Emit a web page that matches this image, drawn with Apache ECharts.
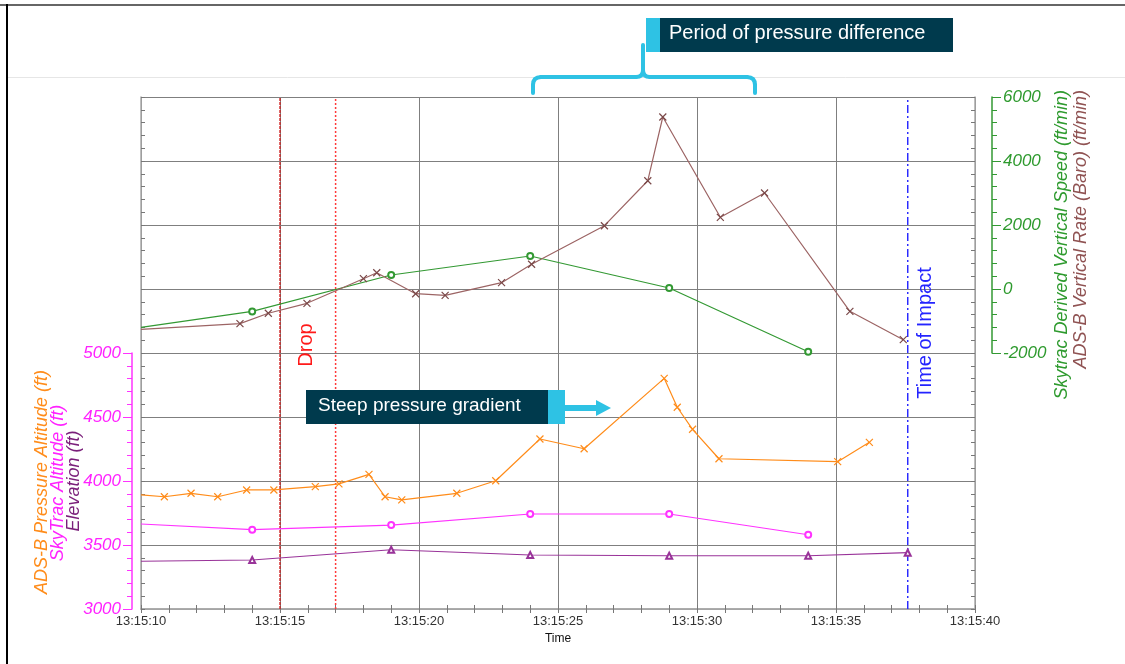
<!DOCTYPE html>
<html>
<head>
<meta charset="utf-8">
<script src="https://cdn.jsdelivr.net/npm/echarts@6/dist/echarts.min.js"></script>
<style>
html,body{margin:0;padding:0;background:#fff;}
#c{width:1125px;height:664px;}
</style>
</head>
<body>
<div id="c"></div>
<script>
// ---- Data (time in seconds after 13:15:00) ----
const adsbAltT = [10, 10.84, 11.8, 12.76, 13.8, 14.78, 16.27, 17.12, 18.2, 18.78, 19.38, 21.36, 22.76, 24.35, 25.94, 28.82, 29.29, 29.84, 30.79, 35.06, 36.2];
const adsbAlt  = [3891, 3877, 3904, 3877, 3930, 3930, 3956, 3977, 4052, 3877, 3852, 3904, 4002, 4328, 4252, 4802, 4576, 4404, 4174, 4151, 4302];
const skyT     = [10, 14, 19, 24, 29, 34];
const skyAlt   = [3664, 3620, 3656, 3742, 3742, 3580];
const elevT    = [10, 14, 19, 24, 29, 34, 37.58];
const elev     = [3373, 3383, 3463, 3422, 3416, 3416, 3440];
const skyVs    = [-1200, -700, 437, 1031, 31, -1960];
const adsbRateT = [10, 13.56, 14.58, 15.97, 18.0, 18.48, 19.88, 20.94, 22.97, 24.05, 26.67, 28.23, 28.77, 30.84, 32.43, 35.5, 37.42];
const adsbRate  = [-1260, -1084, -759, -447, 322, 509, -147, -197, 197, 772, 1978, 3384, 5375, 2240, 3000, -697, -1584];
const dropTimes = [15, 17];
const impactTime = 37.58;
const timeTicks = [10, 15, 20, 25, 30, 35, 40];
const altTicks = [3000, 3500, 4000, 4500, 5000];
const rateTicks = [-2000, 0, 2000, 4000, 6000];

const C = {
  orange: '#ff8c1a', magenta: '#ff33ff', purple: '#993399', green: '#339933', brown: '#9c6464'
};
const pairs = (t, v) => t.map((x, i) => i === 0 ? {value: [x, v[i]], symbol: 'none'} : [x, v[i]]);
const XSYM = 'path://M0,0L8,8M8,0L0,8';
const fmtTime = v => '13:15:' + (v < 10 ? '0' : '') + v;
const plain = v => String(v);

const chart = echarts.init(document.getElementById('c'), null, {renderer: 'canvas'});
const G = {left: 141, width: 834};
const tickGray = '#777';
const CYAN = '#2ec2e4';
const FONT = 'Liberation Sans, Arial';
const bracketStyle = {stroke: CYAN, lineWidth: 4, fill: null, lineCap: 'round'};
const option = {
  animation: false,
  textStyle: {fontFamily: 'Liberation Sans, Arial, sans-serif'},
  grid: [
    Object.assign({top: 97, height: 512}, G),
    Object.assign({top: 353, height: 256}, G),
    Object.assign({top: 97, height: 256}, G)
  ],
  xAxis: [
    {gridIndex: 0, type: 'value', min: timeTicks[0], max: timeTicks[timeTicks.length - 1], interval: 5,
     axisLine: {show: true, lineStyle: {color: '#a8a8a8', width: 1.5}},
     axisTick: {show: true, inside: true, length: 4, lineStyle: {color: tickGray}},
     minorTick: {show: true, splitNumber: 5, length: 4, lineStyle: {color: tickGray}},
     splitLine: {show: true, lineStyle: {color: '#7f7f7f', width: 1}},
     axisLabel: {formatter: fmtTime, color: '#333', fontSize: 13, margin: 6},
     name: 'Time', nameLocation: 'middle', nameGap: 24, nameTextStyle: {color: '#111', fontSize: 12}},
    {gridIndex: 0, type: 'value', position: 'top', min: 10, max: 40, interval: 5,
     axisLine: {show: true, lineStyle: {color: '#a8a8a8', width: 1.5}},
     axisTick: {show: true, inside: true, length: 4, lineStyle: {color: tickGray}},
     minorTick: {show: true, splitNumber: 5, length: 4, lineStyle: {color: tickGray}},
     splitLine: {show: false}, axisLabel: {show: false}},
    {gridIndex: 1, type: 'value', min: 10, max: 40, show: false},
    {gridIndex: 2, type: 'value', min: 10, max: 40, show: false}
  ],
  yAxis: [
    {gridIndex: 0, type: 'value', min: 0, max: 40, interval: 5,
     axisLine: {show: true, lineStyle: {color: '#a8a8a8', width: 1.5}},
     axisTick: {show: true, inside: true, length: 4, lineStyle: {color: tickGray}},
     minorTick: {show: true, splitNumber: 5, length: 4, lineStyle: {color: tickGray}},
     splitLine: {show: true, lineStyle: {color: '#7f7f7f', width: 1}},
     axisLabel: {show: false}},
    {gridIndex: 0, type: 'value', position: 'right', min: 0, max: 40, interval: 5,
     axisLine: {show: true, lineStyle: {color: '#a8a8a8', width: 1.5}},
     axisTick: {show: true, inside: true, length: 4, lineStyle: {color: tickGray}},
     minorTick: {show: true, splitNumber: 5, length: 4, lineStyle: {color: tickGray}},
     splitLine: {show: false}, axisLabel: {show: false}},
    {gridIndex: 1, type: 'value', position: 'left', offset: 9, min: altTicks[0], max: altTicks[altTicks.length - 1], interval: 500,
     axisLine: {show: true, lineStyle: {color: C.magenta, width: 1.5}},
     axisTick: {show: true, inside: false, length: 9, lineStyle: {color: C.magenta}},
     minorTick: {show: true, splitNumber: 5, length: 5, lineStyle: {color: C.magenta}},
     splitLine: {show: false},
     axisLabel: {formatter: plain, color: '#ff22ff', fontSize: 17, fontStyle: 'italic', margin: 11}},
    {gridIndex: 2, type: 'value', position: 'right', offset: 17, min: rateTicks[0], max: rateTicks[rateTicks.length - 1], interval: 2000,
     axisLine: {show: true, lineStyle: {color: C.green, width: 1.5}},
     axisTick: {show: true, inside: false, length: 9, lineStyle: {color: C.green}},
     minorTick: {show: true, splitNumber: 5, length: 5, lineStyle: {color: C.green}},
     splitLine: {show: false},
     axisLabel: {formatter: plain, color: '#2e9a2e', fontSize: 17, fontStyle: 'italic', margin: 11}}
  ],
  series: [
    {type: 'line', xAxisIndex: 0, yAxisIndex: 0, silent: true, symbol: 'none', z: 3,
     data: [[dropTimes[0], 0], [dropTimes[0], 40]], lineStyle: {color: '#d01818', width: 1.3, type: [3, 1]}},
    {type: 'line', xAxisIndex: 0, yAxisIndex: 0, silent: true, symbol: 'none', z: 3,
     data: [[dropTimes[1], 0], [dropTimes[1], 40]], lineStyle: {color: '#ff3a3a', width: 1.5, type: [2, 2]}},
    {type: 'line', xAxisIndex: 0, yAxisIndex: 0, silent: true, symbol: 'none', z: 3,
     data: [[impactTime, 0], [impactTime, 40]], lineStyle: {color: '#2a2aff', width: 1.5, type: [8, 3, 2, 3]}},
    {name: 'ADS-B Pressure Altitude', type: 'line', xAxisIndex: 2, yAxisIndex: 2, z: 4,
     data: pairs(adsbAltT, adsbAlt), symbol: XSYM, symbolSize: 7,
     lineStyle: {color: C.orange, width: 1.2}, itemStyle: {color: C.orange, borderColor: C.orange, borderWidth: 1.2}},
    {name: 'SkyTrac Altitude', type: 'line', xAxisIndex: 2, yAxisIndex: 2, z: 4,
     data: pairs(skyT, skyAlt), symbol: 'emptyCircle', symbolSize: 6,
     lineStyle: {color: C.magenta, width: 1.2}, itemStyle: {color: C.magenta, borderWidth: 1.2}},
    {name: 'Elevation', type: 'line', xAxisIndex: 2, yAxisIndex: 2, z: 4,
     data: pairs(elevT, elev), symbol: 'emptyTriangle', symbolSize: 6,
     lineStyle: {color: C.purple, width: 1.2}, itemStyle: {color: C.purple, borderWidth: 1.2}},
    {name: 'Skytrac Derived Vertical Speed', type: 'line', xAxisIndex: 3, yAxisIndex: 3, z: 4,
     data: pairs(skyT, skyVs), symbol: 'emptyCircle', symbolSize: 6,
     lineStyle: {color: C.green, width: 1.2}, itemStyle: {color: C.green, borderWidth: 1.2}},
    {name: 'ADS-B Vertical Rate (Baro)', type: 'line', xAxisIndex: 3, yAxisIndex: 3, z: 4,
     data: pairs(adsbRateT, adsbRate), symbol: XSYM, symbolSize: 7,
     lineStyle: {color: C.brown, width: 1.2}, itemStyle: {color: C.brown, borderColor: '#7a4848', borderWidth: 1.2}}
  ],
  graphic: {elements: [
    {type: 'line', shape: {x1: 0, y1: 5, x2: 1125, y2: 5}, style: {stroke: '#666', lineWidth: 2}},
    {type: 'line', shape: {x1: 7, y1: 4, x2: 7, y2: 664}, style: {stroke: '#000', lineWidth: 2}},
    {type: 'line', shape: {x1: 8, y1: 77.5, x2: 1125, y2: 77.5}, style: {stroke: '#e6e6e6', lineWidth: 1}},
    {type: 'text', x: 42, y: 482, rotation: Math.PI / 2, style: {text: 'ADS-B Pressure Altitude (ft)', fill: C.orange, font: 'italic 18px ' + FONT, textAlign: 'center', textVerticalAlign: 'middle'}},
    {type: 'text', x: 58, y: 483, rotation: Math.PI / 2, style: {text: 'SkyTrac Altitude (ft)', fill: '#ff22ff', font: 'italic 18px ' + FONT, textAlign: 'center', textVerticalAlign: 'middle'}},
    {type: 'text', x: 74, y: 481, rotation: Math.PI / 2, style: {text: 'Elevation (ft)', fill: '#7a1f7a', font: 'italic 18px ' + FONT, textAlign: 'center', textVerticalAlign: 'middle'}},
    {type: 'text', x: 1062, y: 90, rotation: Math.PI / 2, style: {text: 'Skytrac Derived Vertical Speed (ft/min)', fill: '#2e9a2e', font: 'italic 18px ' + FONT, textAlign: 'right', textVerticalAlign: 'middle'}},
    {type: 'text', x: 1081, y: 90, rotation: Math.PI / 2, style: {text: 'ADS-B Vertical Rate (Baro) (ft/min)', fill: '#8f5252', font: 'italic 18px ' + FONT, textAlign: 'right', textVerticalAlign: 'middle'}},
    {type: 'text', x: 306, y: 345, rotation: Math.PI / 2, z: 10, style: {text: 'Drop', fill: '#ff1a1a', font: '20px ' + FONT, textAlign: 'center', textVerticalAlign: 'middle'}},
    {type: 'text', x: 925, y: 333, rotation: Math.PI / 2, z: 10, style: {text: 'Time of Impact', fill: '#2424ff', font: '20px ' + FONT, textAlign: 'center', textVerticalAlign: 'middle'}},
    {type: 'rect', z: 10, shape: {x: 646, y: 18, width: 14, height: 34}, style: {fill: CYAN}},
    {type: 'rect', z: 10, shape: {x: 660, y: 18, width: 293, height: 34}, style: {fill: '#003a4d'}},
    {type: 'text', z: 11, x: 669, y: 33, style: {text: 'Period of pressure difference', fill: '#fff', font: '20px ' + FONT, textAlign: 'left', textVerticalAlign: 'middle'}},
    {type: 'line', z: 10, shape: {x1: 533, y1: 93, x2: 533, y2: 85}, style: bracketStyle},
    {type: 'bezierCurve', z: 10, shape: {x1: 533, y1: 85, cpx1: 533, cpy1: 77, x2: 541, y2: 77}, style: bracketStyle},
    {type: 'line', z: 10, shape: {x1: 541, y1: 77, x2: 636, y2: 77}, style: bracketStyle},
    {type: 'bezierCurve', z: 10, shape: {x1: 636, y1: 77, cpx1: 643, cpy1: 77, x2: 643, y2: 70}, style: bracketStyle},
    {type: 'line', z: 10, shape: {x1: 643, y1: 70, x2: 643, y2: 45}, style: bracketStyle},
    {type: 'bezierCurve', z: 10, shape: {x1: 643, y1: 70, cpx1: 643, cpy1: 77, x2: 650, y2: 77}, style: bracketStyle},
    {type: 'line', z: 10, shape: {x1: 650, y1: 77, x2: 747, y2: 77}, style: bracketStyle},
    {type: 'bezierCurve', z: 10, shape: {x1: 747, y1: 77, cpx1: 755, cpy1: 77, x2: 755, y2: 85}, style: bracketStyle},
    {type: 'line', z: 10, shape: {x1: 755, y1: 85, x2: 755, y2: 93}, style: bracketStyle},
    {type: 'rect', z: 10, shape: {x: 306, y: 390, width: 242, height: 34}, style: {fill: '#003a4d'}},
    {type: 'rect', z: 10, shape: {x: 548, y: 390, width: 17, height: 34}, style: {fill: CYAN}},
    {type: 'text', z: 11, x: 318, y: 406, style: {text: 'Steep pressure gradient', fill: '#fff', font: '19px ' + FONT, textAlign: 'left', textVerticalAlign: 'middle'}},
    {type: 'polygon', z: 10, shape: {points: [[565, 405], [596, 405], [596, 400], [611, 408], [596, 416], [596, 411], [565, 411]]}, style: {fill: CYAN}}
  ]}
};
chart.setOption(option);
</script>
</body>
</html>
